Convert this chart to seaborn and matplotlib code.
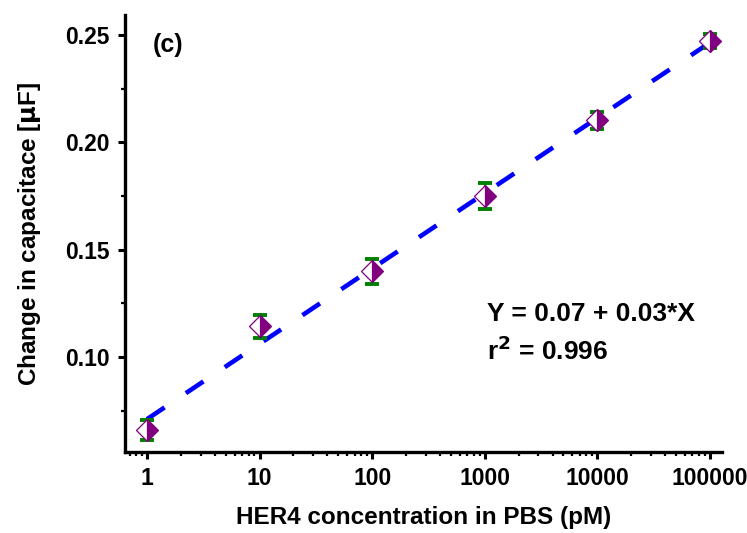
import numpy as np
import pandas as pd
import matplotlib
matplotlib.use("Agg")
import matplotlib.pyplot as plt
import matplotlib.ticker as mticker
import seaborn as sns

# data
conc = [1, 10, 100, 1000, 10000, 100000]
cap = [0.066, 0.1144, 0.140, 0.1749, 0.2102, 0.247]
err = [0.0047, 0.0053, 0.0058, 0.0060, 0.0040, 0.0033]
x_ticks = [1, 10, 100, 1000, 10000, 100000]
y_ticks = [0.10, 0.15, 0.20, 0.25]

sns.set_style("ticks")
plt.rcParams['font.family'] = ['Liberation Sans', 'DejaVu Sans']
plt.rcParams['font.weight'] = 'bold'
for k in ['text.color', 'axes.labelcolor', 'xtick.color', 'ytick.color',
          'axes.edgecolor']:
    plt.rcParams[k] = 'black'

fig = plt.figure(figsize=(7.47, 5.33), dpi=100)
ax = fig.add_axes([0.1673, 0.152, 0.7992, 0.82])

# linear fit in log10(x)
slope, intercept = np.polyfit(np.log10(conc), cap, 1)
fit_df = pd.DataFrame({'x': conc,
                       'y': intercept + slope * np.log10(conc)})
sns.lineplot(data=fit_df, x='x', y='y', ax=ax, color='#0000ff', lw=3.3,
             zorder=2)
ax.lines[-1].set_dashes([4.6, 5.6])
ax.lines[-1].set_dash_capstyle('butt')

ax.errorbar(conc, cap, yerr=err, fmt='none', ecolor='#008000',
            elinewidth=1.6, capsize=5, capthick=2.8, zorder=3)
ax.plot(conc, cap, ls='none', marker='D', ms=11.5, mew=0.9,
        color='#800080', mfc='#800080', mfcalt='white',
        fillstyle='right', mec='#800080', zorder=4)

ax.set_xscale('log')
ax.set_xlim(0.637, 128000)
ax.set_ylim(0.0558, 0.2593)
ax.set_xticks(x_ticks)
ax.set_xticklabels([str(v) for v in x_ticks])
ax.xaxis.set_minor_locator(mticker.LogLocator(base=10, subs=np.arange(2, 10)))
ax.xaxis.set_minor_formatter(mticker.NullFormatter())
ax.set_yticks(y_ticks)
ax.yaxis.set_major_formatter(mticker.FormatStrFormatter('%.2f'))
ax.yaxis.set_minor_locator(mticker.MultipleLocator(0.025))

for s in ['top', 'right']:
    ax.spines[s].set_visible(False)
for s in ['left', 'bottom']:
    ax.spines[s].set_linewidth(2.4)
ax.tick_params(which='major', length=5, width=2.2, direction='out',
               labelsize=16.5)
ax.tick_params(axis='y', which='major', pad=6)
ax.tick_params(axis='x', which='major', pad=6)
ax.tick_params(which='minor', length=3, width=1.6, direction='out')

ax.set_xlabel('HER4 concentration in PBS (pM)', fontsize=17.5,
              fontweight='bold', labelpad=11)
ax.set_ylabel('Change in capacitace [$\\mathbf{\\mu}$F]', fontsize=17.5,
              fontweight='bold', labelpad=16)

ax.text(0.047, 0.931, '(c)', transform=ax.transAxes, fontsize=18,
        fontweight='bold', va='center')
ax.text(0.606, 0.316, 'Y = 0.07 + 0.03*X', transform=ax.transAxes,
        fontsize=19, fontweight='bold', va='center')
ax.text(0.606, 0.231, 'r$^{\\mathbf{2}}$ = 0.996', transform=ax.transAxes,
        fontsize=19, fontweight='bold', va='center')

fig.savefig('out.png', dpi=100)
plt.close(fig)
